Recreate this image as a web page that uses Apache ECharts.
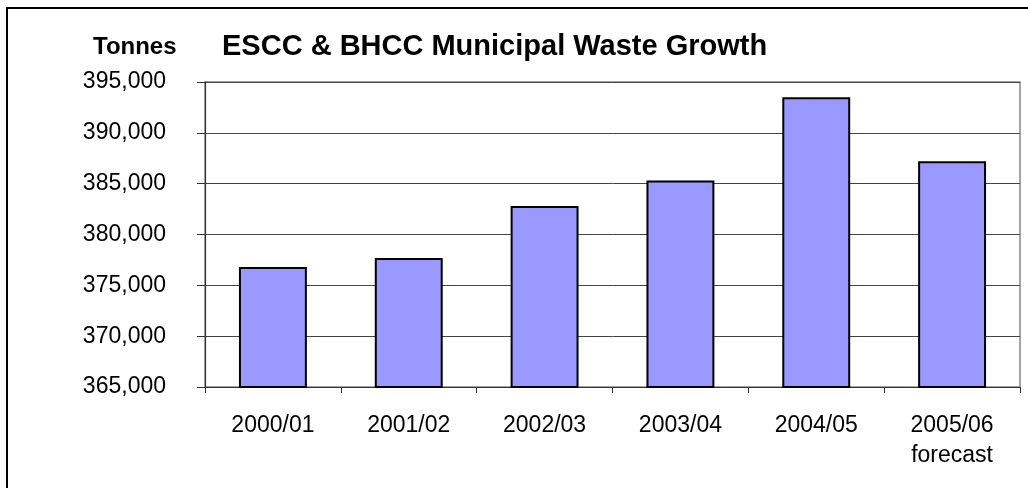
<!DOCTYPE html>
<html>
<head>
<meta charset="utf-8">
<script src="https://cdn.jsdelivr.net/npm/echarts@6/dist/echarts.min.js"></script>
<style>
html,body{margin:0;padding:0;background:#fff;}
#chart{width:1028px;height:488px;}
</style>
</head>
<body>
<div id="chart"></div>
<script>
const categories = ['2000/01', '2001/02', '2002/03', '2003/04', '2004/05', '2005/06\nforecast'];
const wasteTonnes = [376800, 377700, 382800, 385300, 393500, 387200];
const yTicks = { min: 365000, max: 395000, interval: 5000 };
const titleText = 'ESCC & BHCC Municipal Waste Growth';
const unitText = 'Tonnes';

const FONT = '"Liberation Sans", Arial, sans-serif';
const chart = echarts.init(document.getElementById('chart'), null, { renderer: 'canvas' });
chart.setOption({
  animation: false,
  backgroundColor: '#fff',
  title: [
    { text: titleText, left: 222, top: 30, padding: 0,
      textStyle: { fontFamily: FONT, fontSize: 29, fontWeight: 'bold', color: '#000', lineHeight: 34 } },
    { text: unitText, left: 93, top: 33, padding: 0,
      textStyle: { fontFamily: FONT, fontSize: 24, fontWeight: 'bold', color: '#000', lineHeight: 28 } }
  ],
  graphic: [
    { type: 'rect', silent: true, z: 100,
      shape: { x: 7, y: 8, width: 1100, height: 600 },
      style: { fill: 'none', stroke: '#000', lineWidth: 2 } }
  ],
  grid: { left: 205, right: 8, top: 82, bottom: 101, show: true, borderColor: '#888', borderWidth: 1.5, containLabel: false },
  xAxis: {
    type: 'category',
    data: categories,
    axisLine: { lineStyle: { color: '#333', width: 1.2 } },
    axisTick: { show: true, length: 6, lineStyle: { color: '#333' } },
    axisLabel: { fontFamily: FONT, fontSize: 23, color: '#000', margin: 24, lineHeight: 30, interval: 0 }
  },
  yAxis: {
    type: 'value',
    min: yTicks.min, max: yTicks.max, interval: yTicks.interval,
    axisLine: { show: true, lineStyle: { color: '#333', width: 1.2 } },
    axisTick: { show: true, length: 8, lineStyle: { color: '#333' } },
    axisLabel: { fontFamily: FONT, fontSize: 23, color: '#000', margin: 39,
      formatter: v => v.toLocaleString('en-US') },
    splitLine: { show: true, lineStyle: { color: '#444', width: 1 } }
  },
  series: [{
    type: 'bar',
    data: wasteTonnes,
    barWidth: '50%',
    itemStyle: { color: '#9999FF', borderColor: '#000', borderWidth: 2 }
  }]
});
</script>
</body>
</html>
